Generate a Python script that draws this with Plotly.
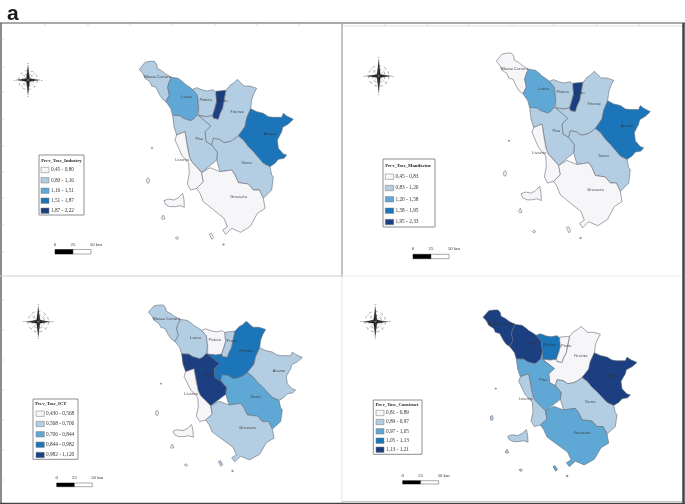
import numpy as np
import plotly.graph_objects as go

# ---- Data: province outlines (map units), islands, classes -----------------
MASSA = [(418,208),(428,197),(435,187),(450,184),(463,184),(470,193),(472,205),(485,212),(497,222),(515,232),(508,245),(503,262),(508,285),(498,305),(487,297),(478,283),(468,262),(455,258),(450,245),(435,235),(428,220)]
LUCCA = [(515,232),(535,235),(548,245),(555,252),(570,262),(577,268),(592,285),(596,320),(592,345),(580,358),(572,362),(550,355),(540,347),(518,346),(512,325),(498,305),(508,285),(503,262),(508,245)]
PISTOIA = [(577,268),(590,263),(608,270),(622,273),(640,269),(648,277),(650,305),(645,325),(638,347),(620,350),(596,347),(596,320),(592,285)]
PRATO = [(648,274),(678,271),(674,290),(672,305),(668,325),(660,342),(655,358),(640,355),(638,347),(645,325),(650,305),(648,285)]
FIRENZE = [(678,271),(690,256),(700,250),(712,238),(722,248),(732,258),(750,258),(770,265),(762,280),(755,300),(752,326),(740,355),(735,380),(715,408),(702,418),(690,425),(672,428),(658,418),(640,415),(635,435),(618,425),(615,395),(632,378),(618,365),(596,347),(620,350),(638,347),(640,355),(655,358),(660,342),(668,325),(672,305),(674,290)]
AREZZO = [(752,326),(770,335),(790,340),(805,350),(820,352),(845,352),(850,340),(860,348),(880,358),(865,372),(848,382),(845,395),(832,420),(835,445),(850,462),(860,465),(852,475),(835,478),(825,490),(810,500),(790,490),(780,480),(760,455),(745,440),(730,420),(715,408),(735,380),(740,355)]
SIENA = [(640,415),(658,418),(672,428),(690,425),(702,418),(715,408),(730,420),(745,440),(760,455),(780,480),(790,490),(810,500),(815,525),(820,530),(815,570),(790,595),(778,570),(760,570),(745,552),(715,548),(705,525),(695,510),(660,515),(650,480),(652,457),(635,435)]
PISA = [(518,346),(540,347),(550,355),(572,362),(580,358),(592,345),(596,347),(618,365),(632,378),(615,395),(618,425),(635,435),(652,457),(650,480),(630,498),(605,518),(590,500),(575,485),(568,470),(562,440),(555,395),(530,405),(522,380)]
LIVORNO = [(530,405),(555,395),(562,440),(568,470),(575,485),(590,500),(605,518),(610,545),(590,565),(572,570),(562,552),(568,520),(566,490),(545,465),(535,440),(525,420)]
GROSSETO = [(605,518),(630,503),(660,515),(695,510),(705,525),(715,548),(745,552),(760,570),(778,570),(790,595),(795,625),(772,640),(752,678),(722,697),(695,685),(677,703),(668,690),(682,680),(672,655),(640,628),(610,605),(600,580),(590,565),(610,545)]
ELBA = [(492,602),(505,597),(522,600),(535,593),(548,580),(552,600),(553,622),(540,617),(525,620),(510,620),(497,614)]
CAPRAIA = [(440,537),(445,533),(449,542),(445,550),(440,547)]
GORGONA = [(454,443),(458,443),(458,446),(454,446)]
PIANOSA = [(484,655),(490,645),(495,657),(488,658)]
MONTECRISTO = [(526,713),(532,710),(536,715),(531,719)]
GIGLIO = [(628,703),(634,699),(641,712),(636,718)]
GIANNUTRI = [(668,732),(672,731),(673,735),(669,736)]

PROVINCES = ["Massa Carrara","Lucca","Pistoia","Prato","Firenze","Arezzo","Siena","Pisa","Livorno","Grosseto"]
OUTLINES = [[MASSA],[LUCCA],[PISTOIA],[PRATO],[FIRENZE],[AREZZO],[SIENA],[PISA],
            [LIVORNO,ELBA,CAPRAIA,GORGONA,PIANOSA,MONTECRISTO],[GROSSETO,GIGLIO,GIANNUTRI]]
LABEL_X = [473,560,617,668,712,810,740,598,547,716]
LABEL_Y = [230,292,300,302,335,402,490,417,480,590]

CLASS_INDUSTRY  = [1,2,1,4,1,3,1,1,0,0]
CLASS_MANUFACT  = [0,2,1,4,1,3,1,1,0,0]
CLASS_ICT       = [1,1,0,1,3,1,2,4,0,1]
CLASS_CONSTRUCT = [4,4,3,0,0,4,1,2,1,2]

TITLE_INDUSTRY  = "Prev_Tosc_Industry"
TITLE_MANUFACT  = "Prev_Tosc_Manifactur"
TITLE_ICT       = "Prev_Tosc_ICT"
TITLE_CONSTRUCT = "Prev_Tosc_Construct"
BINS_INDUSTRY  = ["0,45 - 0,80","0,80 - 1,16","1,16 - 1,51","1,51 - 1,87","1,87 - 2,22"]
BINS_MANUFACT  = ["0,45 - 0,83","0,83 - 1,20","1,20 - 1,58","1,58 - 1,95","1,95 - 2,33"]
BINS_ICT       = ["0,430 - 0,568","0,568 - 0,706","0,706 - 0,844","0,844 - 0,982","0,982 - 1,120"]
BINS_CONSTRUCT = ["0,81 - 0,89","0,89 - 0,97","0,97 - 1,05","1,05 - 1,13","1,13 - 1,21"]

# ---- Styles and layout ------------------------------------------------------
COLORS = ["#f6f6f9","#b3cde3","#5fa8d6","#1b75b8","#1b3f80"]
W, H = 685, 504
PANELS = [
 dict(box=(0,23,342,276), dx=0, oy=0, sy=1.0, cls=CLASS_INDUSTRY, title=TITLE_INDUSTRY, bins=BINS_INDUSTRY,
      leg=(39,155,84,215), ty=160.5, rows=(170,180.3,190.7,200.7,210.7), sw=(41,49), tx=51,
      comp=(28,80,12,15), scale=(55,73,91,249.5,254,244.5), lab="50 km"),
 dict(box=(342,23,685,277), dx=357, oy=-8.9, sy=1.01, cls=CLASS_MANUFACT, title=TITLE_MANUFACT, bins=BINS_MANUFACT,
      leg=(383,159,435,227), ty=165.7, rows=(176.7,188,199.3,210.7,222), sw=(385.3,393.7), tx=395.5,
      comp=(378.7,76,13,17), scale=(413,431,449,254.3,258.7,249.2), lab="50 km"),
 dict(box=(0,276,342,504), dx=9, oy=249.4, sy=0.906, cls=CLASS_ICT, title=TITLE_ICT, bins=BINS_ICT,
      leg=(33,399,78,459.3), ty=403.5, rows=(413.7,424,434.3,444.7,455), sw=(36,44.3), tx=46,
      comp=(38.3,321.7,13,15.5), scale=(56.7,74.5,92.3,483,486.7,478), lab="50 km"),
 dict(box=(342,276,685,504), dx=343.7, oy=254.4, sy=0.906, cls=CLASS_CONSTRUCT, title=TITLE_CONSTRUCT, bins=BINS_CONSTRUCT,
      leg=(373.3,400,422,454.3), ty=404.5, rows=(413,422,431.3,440.7,449.7), sw=(376,384), tx=386,
      comp=(375.3,321.7,13,15.5), scale=(402.7,420.7,438.7,480.7,484,476), lab="50 km"),
]

fig = go.Figure()
layout = dict(width=W, height=H, margin=dict(l=0,r=0,t=0,b=0), showlegend=False,
              paper_bgcolor="white", plot_bgcolor="rgba(0,0,0,0)", hovermode=False)
AX = dict(showgrid=False, zeroline=False, showticklabels=False, ticks="", fixedrange=True, showline=False)
shapes = []

for i, p in enumerate(PANELS):
    n = str(i+1) if i else ""
    l, t, r, b = p["box"]
    xr = [(l-p["dx"])*3, (r-p["dx"])*3]
    yr = [3*(b-p["oy"])/p["sy"], 3*(t-p["oy"])/p["sy"]]
    layout["xaxis"+n] = dict(AX, domain=[l/W, r/W], range=xr, anchor="y"+n)
    layout["yaxis"+n] = dict(AX, domain=[1-b/H, 1-t/H], range=yr, anchor="x"+n)
    for parts, c in zip(OUTLINES, p["cls"]):
        xs, ys = [], []
        for poly in parts:
            xs += [q[0] for q in poly] + [poly[0][0], None]
            ys += [q[1] for q in poly] + [poly[0][1], None]
        fig.add_trace(go.Scatter(x=xs, y=ys, mode="lines", fill="toself", fillcolor=COLORS[c],
                                 line=dict(color="#666c74", width=0.6), xaxis="x"+n, yaxis="y"+n))
    fig.add_trace(go.Scatter(x=LABEL_X, y=LABEL_Y, text=PROVINCES, mode="text", textposition="middle center",
                             textfont=dict(family="Open Sans", size=4, color="#333333"), xaxis="x"+n, yaxis="y"+n))

# full-page pixel axis for frames, legends, scale bars and compasses
layout["xaxis5"] = dict(AX, domain=[0,1], range=[0,W], anchor="y5")
layout["yaxis5"] = dict(AX, domain=[0,1], range=[H,0], anchor="x5")

def rect(x0,y0,x1,y1,fill=None,line="#777",w=0.8):
    shapes.append(dict(type="rect", xref="x5", yref="y5", x0=x0,y0=y0,x1=x1,y1=y1,
                       fillcolor=fill or "rgba(0,0,0,0)", line=dict(color=line,width=w), layer="below"))
def seg(x0,y0,x1,y1,color,w):
    shapes.append(dict(type="line", xref="x5", yref="y5", x0=x0,y0=y0,x1=x1,y1=y1,
                       line=dict(color=color,width=w), layer="above"))
def text(x,y,s,size,family="Liberation Serif",pos="middle right",color="#333",bold=False):
    fig.add_trace(go.Scatter(x=[x],y=[y],text=["<b>%s</b>"%s if bold else s],mode="text",textposition=pos,
                             textfont=dict(family=family,size=size,color=color),xaxis="x5",yaxis="y5"))

def compass(cx,cy,hr,vr):
    th = np.linspace(0,2*np.pi,60)
    for k in (0.8,0.5):
        fig.add_trace(go.Scatter(x=cx+k*hr*np.cos(th), y=cy+k*hr*np.sin(th), mode="lines",
                                 line=dict(color="#777",width=0.6,dash="dot"),xaxis="x5",yaxis="y5"))
    seg(cx-hr,cy,cx+hr,cy,"#555",0.6)
    seg(cx,cy-vr,cx,cy+vr,"#555",0.6)
    seg(cx-0.6*hr,cy-0.6*hr,cx+0.6*hr,cy+0.6*hr,"#999",0.4)
    seg(cx-0.6*hr,cy+0.6*hr,cx+0.6*hr,cy-0.6*hr,"#999",0.4)
    a = 1.6
    sx = [cx,cx+a,cx+0.8*hr,cx+a,cx,cx-a,cx-0.8*hr,cx-a,cx]
    sy = [cy-0.85*vr,cy-a,cy,cy+a,cy+0.85*vr,cy+a,cy,cy-a,cy-0.85*vr]
    fig.add_trace(go.Scatter(x=sx,y=sy,mode="lines",fill="toself",fillcolor="#111",
                             line=dict(color="#111",width=0.3),xaxis="x5",yaxis="y5"))
    for dx_,dy_,ch in ((0,-vr-1.5,"N"),(0,vr+1.5,"S"),(hr+1.5,0,"E"),(-hr-1.5,0,"O")):
        text(cx+dx_,cy+dy_,ch,2.5,family="Liberation Sans",pos="middle center",color="#666")

for p in PANELS:
    x0,y0,x1,y1 = p["leg"]
    rect(x0,y0,x1,y1,fill="white",line="#8a8f96",w=1)
    text(x0+2.2,p["ty"],p["title"],4.7,bold=True,color="#222")
    for y,c,s in zip(p["rows"],COLORS,p["bins"]):
        rect(p["sw"][0],y-2.7,p["sw"][1],y+2.7,fill=c,line="#777",w=0.5)
        text(p["tx"],y,s,5.3,color="#333")
    a,b_,c_,ya,yb,yl = p["scale"]
    rect(a,ya,b_,yb,fill="#000",line="#000",w=0.5)
    rect(b_,ya,c_,yb,fill="white",line="#555",w=0.5)
    text(a,yl,"0",4.8,pos="middle center",color="#333")
    text(b_,yl,"25",4.8,pos="middle center",color="#333")
    text(c_+5,yl,p["lab"],4.8,pos="middle center",color="#333")
    compass(*p["comp"])

# panel frames with their faint graticule ticks
seg(0,23,685,23,"#555",1.2)
seg(342,26,685,26,"#ddd",1)
seg(1,23,1,504,"#666",1.5)
seg(342,23,342,277,"#aaa",1.4)
seg(342,277,342,504,"#e2e2e2",1)
seg(0,276,342,276,"#ccc",1)
seg(342,276,682,276,"#eee",1)
seg(683.5,23,683.5,504,"#444",2.5)
seg(0,503.5,685,503.5,"#444",1.5)
seg(342,501.5,682,501.5,"#ccc",1)
for x in (45,88,130,172,215,257,299):
    seg(x,23,x,25.5,"#bbb",0.6)
for x in (385,427,469,512,554,597,639):
    seg(x,24,x,26,"#ccc",0.6)
for y in (39,67,92,119,146,172,198,225,252,300,330,360,390,420,450,480):
    seg(1,y,3.5,y,"#aaa",0.6)

layout["shapes"] = shapes
layout["annotations"] = [dict(x=5.5/W, y=1, xref="paper", yref="paper", text="<b>a</b>", showarrow=False,
                              xanchor="left", yanchor="top", borderpad=0,
                              font=dict(family="Liberation Sans", size=21, color="#1a1a1a"))]
fig.update_layout(**layout)
fig.write_html("out.html", config=dict(displayModeBar=False),
               post_script="document.body.style.margin='0';document.documentElement.style.overflow='hidden';"
                           "document.querySelector('.plotly-graph-div').style.filter='blur(0.45px)';")
